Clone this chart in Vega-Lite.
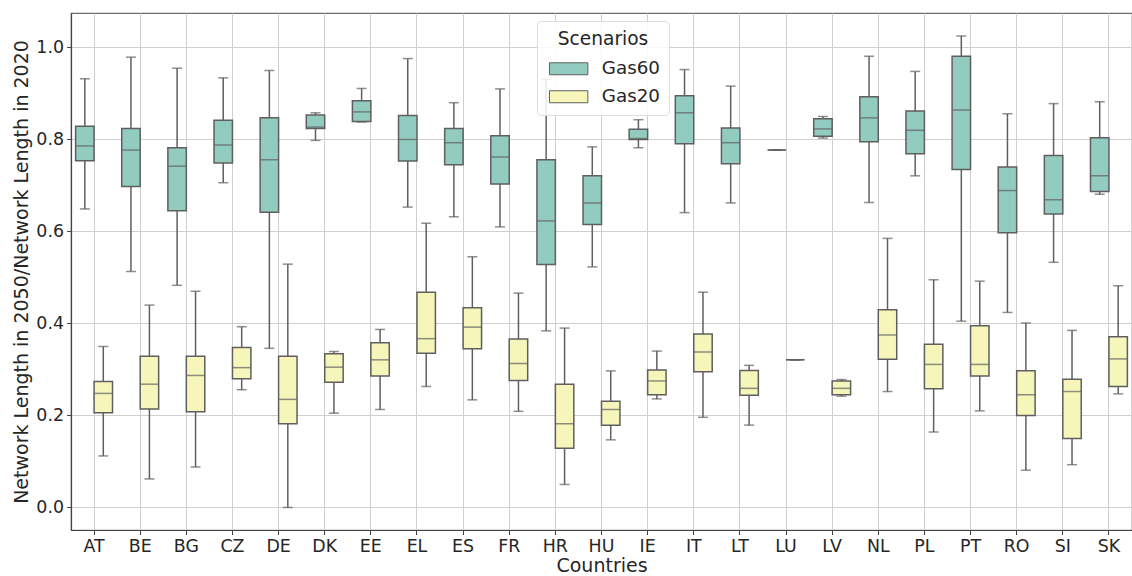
{
  "$schema": "https://vega.github.io/schema/vega-lite/v6.json",
  "autosize": "none",
  "padding": {"left": 71, "top": 13, "right": 0, "bottom": 46},
  "width": 1061,
  "height": 517,
  "background": "white",
  "config": {
    "font": "DejaVu Sans",
    "view": {"stroke": "#6b6b6b", "strokeWidth": 1.2},
    "axis": {
      "labelFont": "DejaVu Sans",
      "titleFont": "DejaVu Sans",
      "labelFontSize": 17.4,
      "titleFontSize": 19,
      "labelColor": "#262626",
      "titleColor": "#262626",
      "titleFontWeight": "normal",
      "domainColor": "#444444",
      "domainWidth": 1.2,
      "tickColor": "#444444",
      "tickSize": 4.5,
      "gridColor": "#cfcfcf",
      "gridWidth": 1
    },
    "legend": {
      "titleFont": "DejaVu Sans",
      "labelFont": "DejaVu Sans"
    }
  },
  "data": {
    "values": [
      {"country": "AT", "scenario": "Gas60", "lo": 0.649, "q1": 0.754, "med": 0.786, "q3": 0.829, "hi": 0.932},
      {"country": "BE", "scenario": "Gas60", "lo": 0.513, "q1": 0.698, "med": 0.777, "q3": 0.824, "hi": 0.979},
      {"country": "BG", "scenario": "Gas60", "lo": 0.483, "q1": 0.645, "med": 0.742, "q3": 0.782, "hi": 0.955},
      {"country": "CZ", "scenario": "Gas60", "lo": 0.706, "q1": 0.749, "med": 0.788, "q3": 0.842, "hi": 0.934},
      {"country": "DE", "scenario": "Gas60", "lo": 0.346, "q1": 0.642, "med": 0.756, "q3": 0.847, "hi": 0.95},
      {"country": "DK", "scenario": "Gas60", "lo": 0.798, "q1": 0.824, "med": 0.827, "q3": 0.853, "hi": 0.858},
      {"country": "EE", "scenario": "Gas60", "lo": 0.838, "q1": 0.839, "med": 0.86, "q3": 0.884, "hi": 0.911},
      {"country": "EL", "scenario": "Gas60", "lo": 0.653, "q1": 0.753, "med": 0.8, "q3": 0.852, "hi": 0.976},
      {"country": "ES", "scenario": "Gas60", "lo": 0.632, "q1": 0.745, "med": 0.793, "q3": 0.824, "hi": 0.88},
      {"country": "FR", "scenario": "Gas60", "lo": 0.61, "q1": 0.703, "med": 0.762, "q3": 0.808, "hi": 0.91},
      {"country": "HR", "scenario": "Gas60", "lo": 0.384, "q1": 0.528, "med": 0.623, "q3": 0.756, "hi": 0.931},
      {"country": "HU", "scenario": "Gas60", "lo": 0.523, "q1": 0.615, "med": 0.662, "q3": 0.721, "hi": 0.784},
      {"country": "IE", "scenario": "Gas60", "lo": 0.782, "q1": 0.8, "med": 0.802, "q3": 0.822, "hi": 0.843},
      {"country": "IT", "scenario": "Gas60", "lo": 0.641, "q1": 0.791, "med": 0.858, "q3": 0.895, "hi": 0.952},
      {"country": "LT", "scenario": "Gas60", "lo": 0.662, "q1": 0.747, "med": 0.793, "q3": 0.825, "hi": 0.916},
      {"country": "LU", "scenario": "Gas60", "lo": 0.777, "q1": 0.777, "med": 0.777, "q3": 0.777, "hi": 0.777},
      {"country": "LV", "scenario": "Gas60", "lo": 0.803, "q1": 0.807, "med": 0.823, "q3": 0.845, "hi": 0.85},
      {"country": "NL", "scenario": "Gas60", "lo": 0.663, "q1": 0.795, "med": 0.847, "q3": 0.893, "hi": 0.981},
      {"country": "PL", "scenario": "Gas60", "lo": 0.721, "q1": 0.769, "med": 0.82, "q3": 0.862, "hi": 0.948},
      {"country": "PT", "scenario": "Gas60", "lo": 0.405, "q1": 0.735, "med": 0.864, "q3": 0.981, "hi": 1.025},
      {"country": "RO", "scenario": "Gas60", "lo": 0.424, "q1": 0.597, "med": 0.689, "q3": 0.74, "hi": 0.856},
      {"country": "SI", "scenario": "Gas60", "lo": 0.533, "q1": 0.638, "med": 0.669, "q3": 0.765, "hi": 0.878},
      {"country": "SK", "scenario": "Gas60", "lo": 0.681, "q1": 0.687, "med": 0.721, "q3": 0.804, "hi": 0.882},
      {"country": "AT", "scenario": "Gas20", "lo": 0.112, "q1": 0.206, "med": 0.248, "q3": 0.274, "hi": 0.35},
      {"country": "BE", "scenario": "Gas20", "lo": 0.062, "q1": 0.214, "med": 0.268, "q3": 0.329, "hi": 0.44},
      {"country": "BG", "scenario": "Gas20", "lo": 0.088, "q1": 0.208, "med": 0.287, "q3": 0.329, "hi": 0.47},
      {"country": "CZ", "scenario": "Gas20", "lo": 0.256, "q1": 0.28, "med": 0.304, "q3": 0.348, "hi": 0.393},
      {"country": "DE", "scenario": "Gas20", "lo": 0.0, "q1": 0.182, "med": 0.235, "q3": 0.329, "hi": 0.529},
      {"country": "DK", "scenario": "Gas20", "lo": 0.205, "q1": 0.272, "med": 0.305, "q3": 0.334, "hi": 0.339},
      {"country": "EE", "scenario": "Gas20", "lo": 0.213, "q1": 0.286, "med": 0.321, "q3": 0.358, "hi": 0.387},
      {"country": "EL", "scenario": "Gas20", "lo": 0.263, "q1": 0.335, "med": 0.367, "q3": 0.468, "hi": 0.618},
      {"country": "ES", "scenario": "Gas20", "lo": 0.234, "q1": 0.345, "med": 0.392, "q3": 0.434, "hi": 0.545},
      {"country": "FR", "scenario": "Gas20", "lo": 0.209, "q1": 0.276, "med": 0.313, "q3": 0.366, "hi": 0.466},
      {"country": "HR", "scenario": "Gas20", "lo": 0.05, "q1": 0.129, "med": 0.182, "q3": 0.268, "hi": 0.39},
      {"country": "HU", "scenario": "Gas20", "lo": 0.147, "q1": 0.179, "med": 0.213, "q3": 0.231, "hi": 0.297},
      {"country": "IE", "scenario": "Gas20", "lo": 0.236, "q1": 0.245, "med": 0.275, "q3": 0.299, "hi": 0.34},
      {"country": "IT", "scenario": "Gas20", "lo": 0.196, "q1": 0.295, "med": 0.338, "q3": 0.377, "hi": 0.468},
      {"country": "LT", "scenario": "Gas20", "lo": 0.179, "q1": 0.244, "med": 0.259, "q3": 0.298, "hi": 0.309},
      {"country": "LU", "scenario": "Gas20", "lo": 0.321, "q1": 0.321, "med": 0.321, "q3": 0.321, "hi": 0.321},
      {"country": "LV", "scenario": "Gas20", "lo": 0.242, "q1": 0.245, "med": 0.259, "q3": 0.275, "hi": 0.278},
      {"country": "NL", "scenario": "Gas20", "lo": 0.252, "q1": 0.322, "med": 0.375, "q3": 0.43, "hi": 0.585},
      {"country": "PL", "scenario": "Gas20", "lo": 0.164, "q1": 0.258, "med": 0.311, "q3": 0.355, "hi": 0.495},
      {"country": "PT", "scenario": "Gas20", "lo": 0.21, "q1": 0.286, "med": 0.311, "q3": 0.395, "hi": 0.492},
      {"country": "RO", "scenario": "Gas20", "lo": 0.081, "q1": 0.2, "med": 0.245, "q3": 0.297, "hi": 0.401},
      {"country": "SI", "scenario": "Gas20", "lo": 0.093, "q1": 0.15, "med": 0.252, "q3": 0.279, "hi": 0.385},
      {"country": "SK", "scenario": "Gas20", "lo": 0.247, "q1": 0.263, "med": 0.323, "q3": 0.371, "hi": 0.482}
    ]
  },
  "encoding": {
    "x": {
      "field": "country",
      "type": "nominal",
      "sort": null,
      "scale": {"paddingInner": 0, "paddingOuter": 0},
      "axis": {
        "title": "Countries",
        "labelAngle": 0,
        "labelPadding": 3,
        "titlePadding": 2,
        "grid": true
      }
    },
    "xOffset": {
      "field": "scenario",
      "type": "nominal",
      "sort": ["Gas60", "Gas20"],
      "scale": {"domain": ["Gas60", "Gas20"], "paddingInner": 0, "paddingOuter": 0.25}
    }
  },
  "layer": [
    {
      "mark": {"type": "rule", "color": "#5f5f5f", "strokeWidth": 1.5},
      "encoding": {
        "y": {
          "field": "lo",
          "type": "quantitative",
          "scale": {"domain": [-0.049, 1.075], "nice": false, "zero": false},
          "axis": {
            "title": "Network Length in 2050/Network Length in 2020",
            "values": [0, 0.2, 0.4, 0.6, 0.8, 1.0],
            "format": ".1f",
            "labelPadding": 3,
            "titlePadding": 4,
            "grid": true
          }
        },
        "y2": {"field": "hi"}
      }
    },
    {
      "mark": {"type": "bar", "stroke": "#5f5f5f", "strokeWidth": 1.5},
      "encoding": {
        "y": {"field": "q1", "type": "quantitative"},
        "y2": {"field": "q3"},
        "fill": {
          "field": "scenario",
          "type": "nominal",
          "scale": {"domain": ["Gas60", "Gas20"], "range": ["#92cbbf", "#f6f6bb"]},
          "legend": {
            "title": "Scenarios",
            "orient": "none",
            "legendX": 466,
            "legendY": 8,
            "titleFontSize": 18.6,
            "titleFontWeight": "normal",
            "titleColor": "#262626",
            "titleAnchor": "middle",
            "titlePadding": 11,
            "labelFontSize": 18.3,
            "labelColor": "#262626",
            "symbolType": "M-3.2,-1H3.2V1H-3.2Z",
            "symbolSize": 144,
            "symbolOffset": 13.5,
            "symbolStrokeColor": "#5f5f5f",
            "symbolStrokeWidth": 1,
            "symbolOpacity": 1,
            "labelOffset": 24,
            "rowPadding": 9,
            "padding": 9,
            "fillColor": "rgba(255,255,255,0.85)",
            "strokeColor": "#dddddd",
            "cornerRadius": 4
          }
        }
      }
    },
    {
      "mark": {"type": "tick", "color": "#5f5f5f", "thickness": 1.5, "size": 18},
      "encoding": {"y": {"field": "med", "type": "quantitative"}}
    },
    {
      "mark": {"type": "tick", "color": "#5f5f5f", "thickness": 1.5, "size": 10},
      "encoding": {"y": {"field": "lo", "type": "quantitative"}}
    },
    {
      "mark": {"type": "tick", "color": "#5f5f5f", "thickness": 1.5, "size": 10},
      "encoding": {"y": {"field": "hi", "type": "quantitative"}}
    }
  ]
}
